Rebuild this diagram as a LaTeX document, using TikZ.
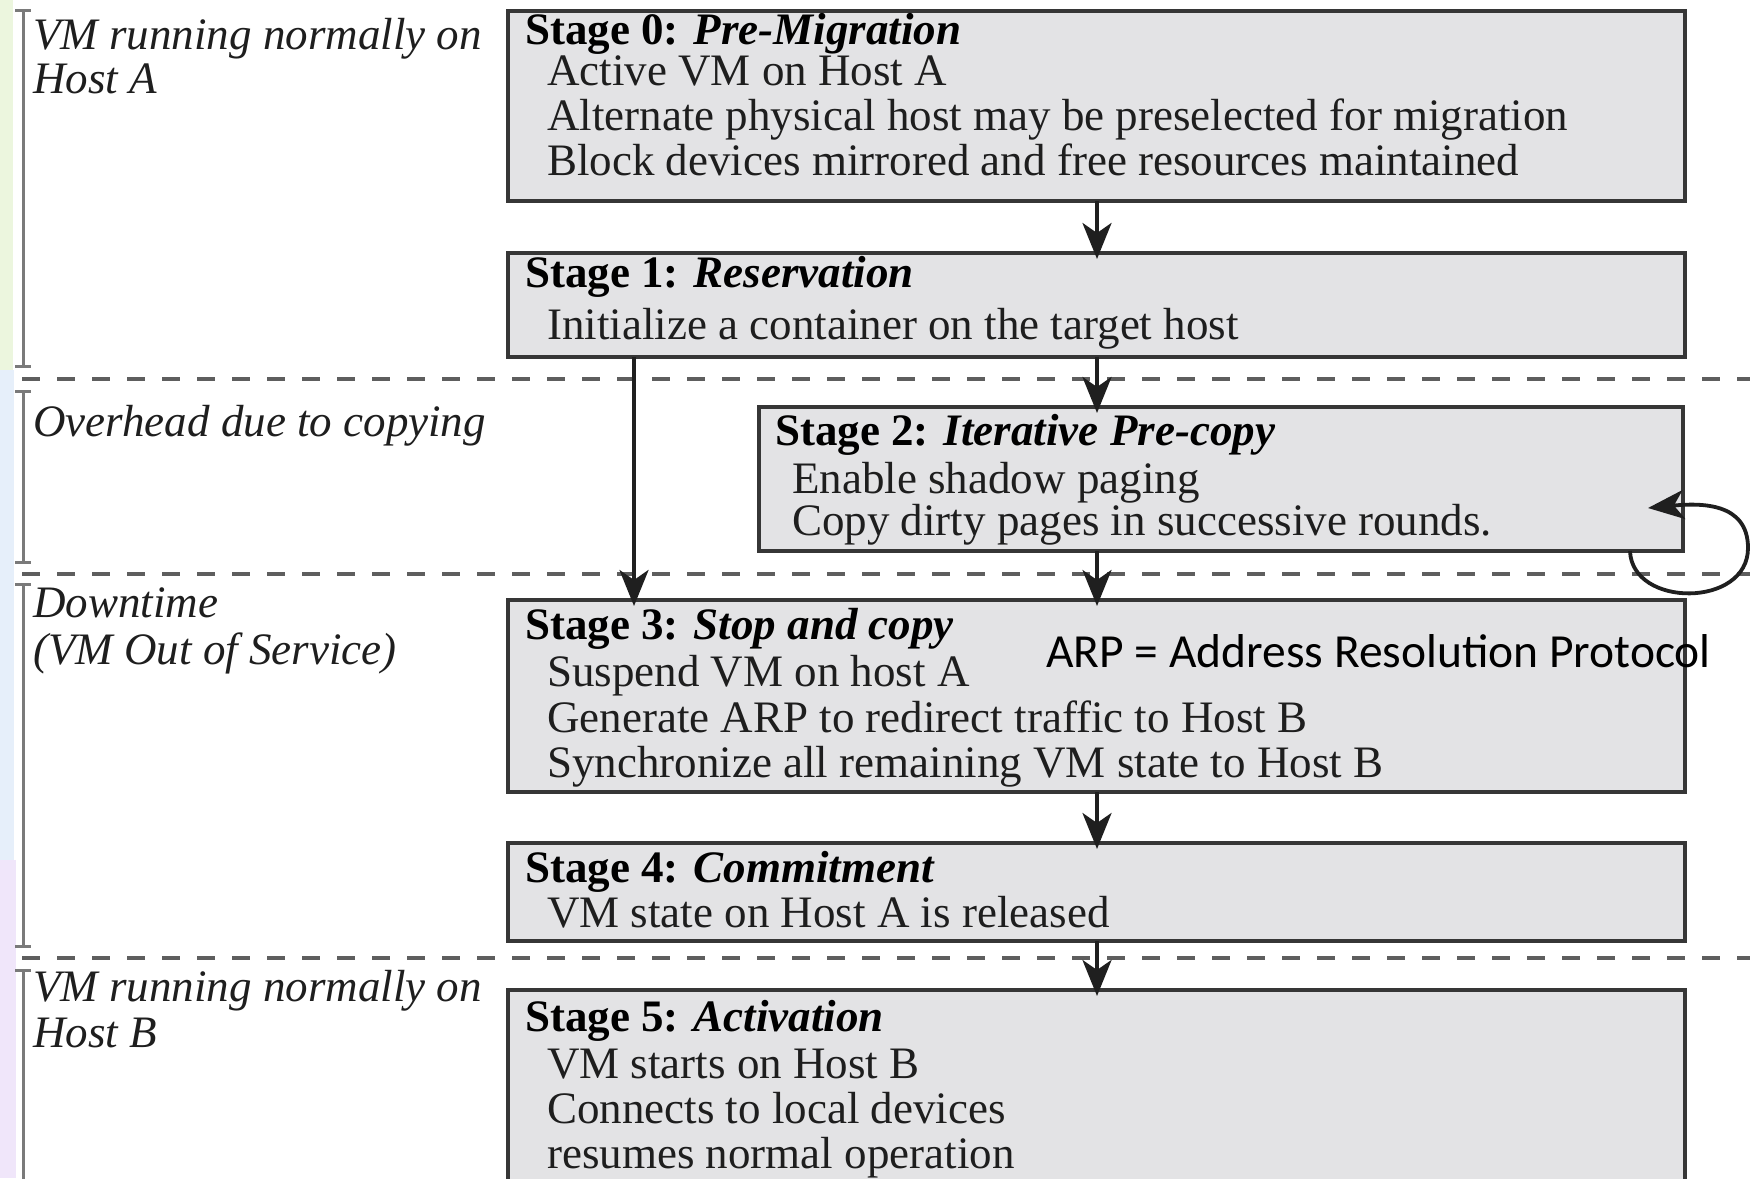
\documentclass[tikz,border=0pt]{standalone}
\usepackage{fontspec}
\setmainfont{Liberation Serif}
\newfontfamily\arpfont{Carlito}
\usetikzlibrary{arrows.meta}
\definecolor{boxfill}{HTML}{E3E3E5}
\definecolor{boxline}{HTML}{363636}
\definecolor{dashgray}{HTML}{5E5E5E}
\definecolor{brackgray}{HTML}{7A7A7A}
\definecolor{txt}{HTML}{1E1E1E}
\definecolor{stripgreen}{HTML}{ECF6DE}
\definecolor{stripblue}{HTML}{E6EFFA}
\definecolor{striplav}{HTML}{F0E6FA}
\begin{document}
\begin{tikzpicture}[x=1pt,y=-1pt,
  stagebox/.style={draw=boxline, fill=boxfill, line width=4.2pt, inner sep=0pt, outer sep=0pt, anchor=north west},
  sepline/.style={draw=dashgray, line width=3.5pt, dash pattern=on 18pt off 17pt},
  brk/.style={draw=brackgray, line width=3pt},
  arr/.style={draw=black!88, line width=3.8pt, -{Stealth[length=36pt,width=29pt,inset=10pt]}},
  ttl/.style={anchor=base west, inner sep=0pt, font=\fontsize{45}{45}\selectfont, text=black},
  body/.style={anchor=base west, inner sep=0pt, font=\fontsize{45}{45}\selectfont, text=txt},
  side/.style={anchor=base west, inner sep=0pt, font=\fontsize{45}{45}\selectfont\itshape, text=txt}
]
\useasboundingbox (0,0) rectangle (1750,1178);
\clip (0,0) rectangle (1750,1178);
\fill[white] (0,0) rectangle (1750,1178);
% faint slide background strips at the left edge
\fill[stripgreen] (0,0) rectangle (13,370);
\fill[stripblue] (0,370) rectangle (14,860);
\fill[striplav] (0,860) rectangle (16,1178);

% separators
\draw[sepline] (22,379) -- (1750,379);
\draw[sepline] (22,574) -- (1750,574);
\draw[sepline] (22,958) -- (1750,958);

% phase brackets
\draw[brk] (23,10) -- (23,366);
\draw[brk] (15,10) -- (31,10);
\draw[brk] (15,366) -- (31,366);
\draw[brk] (23,391) -- (23,562);
\draw[brk] (15,391) -- (31,391);
\draw[brk] (15,562) -- (31,562);
\draw[brk] (23,584) -- (23,946);
\draw[brk] (15,584) -- (31,584);
\draw[brk] (15,946) -- (31,946);
\draw[brk] (23,970) -- (23,1190);
\draw[brk] (15,970) -- (31,970);

% phase labels
\node[side] (la1) at (33,49) {VM running normally on};
\node[side] (la2) at (33,93) {Host A};
\node[side] (lb1) at (33,436) {Overhead due to copying};
\node[side] (lc1) at (33,617) {Downtime};
\node[side] (lc2) at (33,664) {(VM Out of Service)};
\node[side] (ld1) at (33,1001) {VM running normally on};
\node[side] (ld2) at (33,1047) {Host B};

% stage boxes
\node[stagebox, minimum width=1177pt, minimum height=190pt] (s0) at (508,11) {};
\node[stagebox, minimum width=1177pt, minimum height=104pt] (s1) at (508,253) {};
\node[stagebox, minimum width=924pt, minimum height=144pt] (s2) at (759,407) {};
\node[stagebox, minimum width=1177pt, minimum height=192pt] (s3) at (508,600) {};
\node[stagebox, minimum width=1177pt, minimum height=98pt] (s4) at (508,843) {};
\node[stagebox, minimum width=1177pt, minimum height=230pt] (s5) at (508,990) {};

% stage texts
\node[ttl] (s0t) at (525,44) {\textbf{Stage 0: \textit{Pre-Migration}}};
\node[body] (s0a) at (547,85) {Active VM on Host A};
\node[body] (s0b) at (547,130) {Alternate physical host may be preselected for migration};
\node[body] (s0c) at (547,175) {Block devices mirrored and free resources maintained};

\node[ttl] (s1t) at (525,287) {\textbf{Stage 1: \textit{Reservation}}};
\node[body] (s1a) at (547,339) {Initialize a container on the target host};

\node[ttl] (s2t) at (775,445) {\textbf{Stage 2: \textit{Iterative Pre-copy}}};
\node[body] (s2a) at (792,493) {Enable shadow paging};
\node[body] (s2b) at (792,535) {Copy dirty pages in successive rounds.};

\node[ttl] (s3t) at (525,639) {\textbf{Stage 3: \textit{Stop and copy}}};
\node[body] (s3a) at (547,686) {Suspend VM on host A};
\node[body] (s3b) at (547,732) {Generate ARP to redirect traffic to Host B};
\node[body] (s3c) at (547,777) {Synchronize all remaining VM state to Host B};

\node[ttl] (s4t) at (525,882) {\textbf{Stage 4: \textit{Commitment}}};
\node[body] (s4a) at (547,927) {VM state on Host A is released};

\node[ttl] (s5t) at (525,1031) {\textbf{Stage 5: \textit{Activation}}};
\node[body] (s5a) at (547,1078) {VM starts on Host B};
\node[body] (s5b) at (547,1123) {Connects to local devices};
\node[body] (s5c) at (547,1168) {resumes normal operation};

\node[anchor=base west, inner sep=0pt, font=\arpfont\fontsize{47.5}{47.5}\selectfont, text=black] (arp) at (1046,667) {ARP = Address Resolution Protocol};

% connectors
\coordinate (mx) at (1097,0);
\coordinate (lx) at (634,0);
\draw[arr] (s0.south -| mx) -- ([yshift=-6pt]s1.north -| mx);
\draw[arr] (s1.south -| mx) -- ([yshift=-6pt]s2.north -| mx);
\draw[arr] (s2.south -| mx) -- ([yshift=-6pt]s3.north -| mx);
\draw[arr] (s1.south -| lx) -- ([yshift=-6pt]s3.north -| lx);
\draw[arr] (s3.south -| mx) -- ([yshift=-6pt]s4.north -| mx);
\draw[arr] (s4.south -| mx) -- ([yshift=-6pt]s5.north -| mx);

% self loop on stage 2
\coordinate (loopx) at (1630,0);
\coordinate (loopend) at (1648,508);
\draw[arr] (s2.south -| loopx) .. controls (1632,608) and (1748,608) .. (1748,548)
  .. controls (1748,502) and (1700,503) .. (loopend);
\end{tikzpicture}
\end{document}
